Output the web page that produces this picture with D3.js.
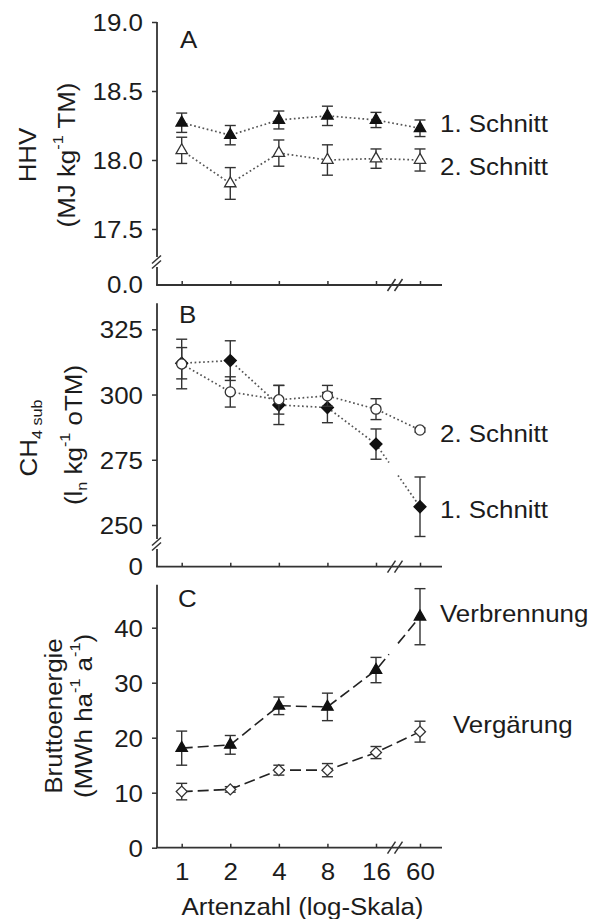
<!DOCTYPE html>
<html>
<head>
<meta charset="utf-8">
<script src="https://cdn.jsdelivr.net/npm/d3@7"></script>
<style>
  body { margin: 0; background: #fff; }
  svg { display: block; font-family: "Liberation Sans", Arial, sans-serif; }
  text { white-space: pre; }
</style>
</head>
<body>
<svg id="chart" width="599" height="919"></svg>
<script>
// ---- data -------------------------------------------------------------
const speciesCounts = [1, 2, 4, 8, 16, 60];
const xTickLabels = ["1", "2", "4", "8", "16", "60"];

// A: higher heating value, MJ kg-1 TM
const hhvCut1 = [18.27, 18.18, 18.29, 18.32, 18.29, 18.23];
const hhvCut1Err = [0.07, 0.07, 0.065, 0.07, 0.055, 0.06];
const hhvCut2 = [18.07, 17.83, 18.05, 18.00, 18.01, 18.00];
const hhvCut2Err = [0.095, 0.115, 0.095, 0.11, 0.07, 0.08];
const hhvTicks = [17.5, 18.0, 18.5, 19.0];

// B: specific methane yield, ln kg-1 oTM
const ch4Cut1 = [312, 313, 296, 295, 281, 257];
const ch4Cut1Err = [6, 7.6, 7.5, 5.8, 5.8, 11.4];
const ch4Cut2 = [311.7, 301, 298, 299.5, 294.4, 286.4];
const ch4Cut2Err = [9.5, 5.8, 5.5, 4, 4, 0.8];
const ch4Ticks = [250, 275, 300, 325];

// C: gross energy, MWh ha-1 a-1
const energyCombustion = [18.1, 18.7, 25.8, 25.6, 32.3, 42.0];
const energyCombustionErr = [3.1, 1.7, 1.6, 2.5, 2.3, 5.1];
const energyDigestion = [10.2, 10.6, 14.1, 14.1, 17.3, 21.1];
const energyDigestionErr = [1.5, 0.5, 0.9, 1.2, 1.1, 1.9];
const energyTicks = [0, 10, 20, 30, 40];

// ---- layout -----------------------------------------------------------
const INK = "#1c1c1c";
const LINE = "#333";
const FS = 24, SMALL = 15, STRETCH = 1.08;
const AXIS_X = 157, X_END = 442, X_BREAK = 395;

const svg = d3.select("#chart");

// log2 spacing for 1..16, then a compressed step past the axis break to 60
const x = d3.scaleLog().base(2).domain([1, 16, 60]).range([181.7, 376, 420]);

function place(px, py, rot) {
  return `translate(${px},${py})` + (rot ? ` rotate(${rot})` : "") + ` scale(${STRETCH},1)`;
}
function rich(parent, px, py, parts, opts = {}) {
  const t = parent.append("text")
    .attr("transform", place(px, py, opts.rot || 0))
    .attr("text-anchor", opts.anchor || "start")
    .attr("font-size", FS)
    .attr("fill", INK);
  let prev = 0;
  parts.forEach(p => {
    const shift = p.shift || 0;
    t.append("tspan").attr("dy", shift - prev).attr("font-size", p.size || FS).text(p.t);
    prev = shift;
  });
  return t;
}

const panels = [
  {
    letter: "A", letterPos: [180, 48],
    y: d3.scaleLinear().domain([17.5, 19]).range([229, 22]),
    top: 19, baseline: 285, yBreak: 262, zeroText: "0.0",
    ticks: hhvTicks, fmt: d3.format(".1f"),
    labels: [
      { pos: [36, 155], parts: [{ t: "HHV" }] },
      { pos: [75, 155], parts: [{ t: "(MJ kg" }, { t: "-1", shift: -12, size: SMALL }, { t: " TM)" }] }
    ],
    series: [
      { values: hhvCut1, errors: hhvCut1Err, shape: "triangle", filled: true, dash: "dot",
        name: "1. Schnitt", namePos: [440, 132] },
      { values: hhvCut2, errors: hhvCut2Err, shape: "triangle", filled: false, dash: "dot",
        name: "2. Schnitt", namePos: [440, 175] }
    ]
  },
  {
    letter: "B", letterPos: [179, 323],
    y: d3.scaleLinear().domain([250, 325]).range([525, 329.3]),
    top: 335, baseline: 566.7, yBreak: 544, zeroText: "0",
    ticks: ch4Ticks, fmt: d3.format("d"),
    labels: [
      { pos: [37, 438], parts: [{ t: "CH" }, { t: "4 sub", shift: 5, size: SMALL }] },
      { pos: [82, 435], parts: [{ t: "(l" }, { t: "n", shift: 5, size: SMALL }, { t: " kg" },
                                { t: "-1", shift: -12, size: SMALL }, { t: " oTM)" }] }
    ],
    series: [
      { values: ch4Cut1, errors: ch4Cut1Err, shape: "diamond", filled: true, dash: "dot", gap: true,
        name: "1. Schnitt", namePos: [440, 518] },
      { values: ch4Cut2, errors: ch4Cut2Err, shape: "circle", filled: false, dash: "dot",
        name: "2. Schnitt", namePos: [440, 442] }
    ]
  },
  {
    letter: "C", letterPos: [178, 607],
    y: d3.scaleLinear().domain([0, 40]).range([847.7, 627.7]),
    top: 47.8, baseline: 847.7, yBreak: null,
    ticks: energyTicks, fmt: d3.format("d"), xLabels: true,
    labels: [
      { pos: [62, 716], parts: [{ t: "Bruttoenergie" }] },
      { pos: [92, 716], parts: [{ t: "(MWh ha" }, { t: "-1", shift: -12, size: SMALL }, { t: " a" },
                                { t: "-1", shift: -12, size: SMALL }, { t: ")" }] }
    ],
    series: [
      { values: energyCombustion, errors: energyCombustionErr, shape: "triangle", filled: true, dash: "dash", gap: true,
        name: "Verbrennung", namePos: [440, 622] },
      { values: energyDigestion, errors: energyDigestionErr, shape: "odiamond", filled: false, dash: "dash",
        name: "Vergärung", namePos: [453, 733] }
    ]
  }
];

const symbolFor = {
  triangle: d3.symbol(d3.symbolTriangle, 56),
  diamond: d3.symbol(d3.symbolSquare, 72),
  odiamond: d3.symbol(d3.symbolSquare, 60),
  circle: d3.symbol(d3.symbolCircle, 80)
};

panels.forEach(p => {
  const g = svg.append("g");
  const y = p.y;

  // y axis line (with break marks for the truncated panels)
  const yTop = y(p.top);
  if (p.yBreak) {
    g.append("line").attr("x1", AXIS_X).attr("x2", AXIS_X).attr("y1", yTop).attr("y2", p.yBreak - 5)
      .attr("stroke", LINE).attr("stroke-width", 1.8);
    g.append("line").attr("x1", AXIS_X).attr("x2", AXIS_X).attr("y1", p.yBreak + 5).attr("y2", p.baseline)
      .attr("stroke", LINE).attr("stroke-width", 1.8);
    [-2.5, 2.5].forEach(o => {
      g.append("line")
        .attr("x1", AXIS_X - 5).attr("y1", p.yBreak + o + 4)
        .attr("x2", AXIS_X + 4).attr("y2", p.yBreak + o - 4)
        .attr("stroke", LINE).attr("stroke-width", 1.5);
    });
    g.append("text").attr("transform", place(AXIS_X - 14, p.baseline, 0))
      .attr("dy", "0.34em").attr("text-anchor", "end").attr("font-size", FS).attr("fill", INK)
      .text(p.zeroText);
  } else {
    g.append("line").attr("x1", AXIS_X).attr("x2", AXIS_X).attr("y1", yTop).attr("y2", p.baseline)
      .attr("stroke", LINE).attr("stroke-width", 1.8);
  }

  const yAxis = g.append("g").attr("transform", `translate(${AXIS_X},0)`)
    .call(d3.axisLeft(y).tickValues(p.ticks).tickFormat(p.fmt).tickSizeInner(5).tickSizeOuter(0).tickPadding(8));
  yAxis.select(".domain").remove();
  yAxis.selectAll(".tick line").attr("stroke", LINE).attr("stroke-width", 1.5);
  yAxis.selectAll(".tick text").attr("font-size", FS).attr("fill", INK).attr("font-family", null)
    .attr("dy", "0.36em").attr("transform", `scale(${STRETCH},1)`);
  yAxis.attr("font-family", null).attr("font-size", null);

  // x axis line, inward ticks and break marks
  g.append("line").attr("x1", AXIS_X - 0.9).attr("x2", X_END).attr("y1", p.baseline).attr("y2", p.baseline)
    .attr("stroke", LINE).attr("stroke-width", 1.8);
  const xAxis = g.append("g").attr("transform", `translate(0,${p.baseline})`)
    .call(d3.axisBottom(x).tickValues(speciesCounts)
      .tickFormat((d, i) => p.xLabels ? xTickLabels[i] : "")
      .tickSizeInner(-4).tickSizeOuter(0).tickPadding(15));
  xAxis.select(".domain").remove();
  xAxis.attr("font-family", null).attr("font-size", null);
  xAxis.selectAll(".tick line").attr("stroke", LINE).attr("stroke-width", 1.5);
  xAxis.selectAll(".tick text").attr("font-size", FS).attr("fill", INK)
    .attr("transform", `scale(${STRETCH},1)`);
  [-3.5, 3.5].forEach(o => {
    g.append("line")
      .attr("x1", X_BREAK + o - 4).attr("y1", p.baseline + 6)
      .attr("x2", X_BREAK + o + 4).attr("y2", p.baseline - 6)
      .attr("stroke", LINE).attr("stroke-width", 1.5);
  });

  // panel letter and axis title
  rich(g, p.letterPos[0], p.letterPos[1], [{ t: p.letter }]);
  p.labels.forEach(l => rich(g, l.pos[0], l.pos[1], l.parts, { anchor: "middle", rot: -90 }));

  // connecting lines
  p.series.forEach(s => {
    const pts = speciesCounts.map((n, i) => [x(n), y(s.values[i])]);
    const style = s.dash === "dot"
      ? { dash: "1.7,2.6", color: "#555", width: 1.7 }
      : { dash: "11,5", color: "#222", width: 1.6 };
    const segments = [];
    if (s.gap) {
      const a = pts[pts.length - 2], b = pts[pts.length - 1];
      const at = xx => [xx, a[1] + (b[1] - a[1]) * (xx - a[0]) / (b[0] - a[0])];
      segments.push(pts.slice(0, -1).concat([at(X_BREAK - 6)]));
      segments.push([at(X_BREAK + 3), b]);
    } else {
      segments.push(pts);
    }
    segments.forEach(seg => {
      g.append("path").attr("d", d3.line()(seg))
        .attr("fill", "none").attr("stroke", style.color)
        .attr("stroke-width", style.width).attr("stroke-dasharray", style.dash);
    });
  });

  // error bars and markers
  p.series.forEach(s => {
    speciesCounts.forEach((n, i) => {
      const cx = x(n), v = s.values[i], e = s.errors[i];
      const y1 = y(v + e), y2 = y(v - e);
      g.append("line").attr("x1", cx).attr("x2", cx).attr("y1", y1).attr("y2", y2)
        .attr("stroke", LINE).attr("stroke-width", 1.4);
      [y1, y2].forEach(yy => g.append("line")
        .attr("x1", cx - 5.5).attr("x2", cx + 5.5).attr("y1", yy).attr("y2", yy)
        .attr("stroke", LINE).attr("stroke-width", 1.4));
      const rot = (s.shape === "diamond" || s.shape === "odiamond") ? " rotate(45)" : "";
      g.append("path").attr("d", symbolFor[s.shape]())
        .attr("transform", `translate(${cx},${y(v)})${rot}`)
        .attr("fill", s.filled ? "#111" : "#fff")
        .attr("stroke", s.filled ? "#111" : "#333")
        .attr("stroke-width", 1.3);
    });
    rich(g, s.namePos[0], s.namePos[1], [{ t: s.name }]);
  });
});

// shared x-axis title
rich(svg, 302.5, 915, [{ t: "Artenzahl (log-Skala)" }], { anchor: "middle" });
</script>
</body>
</html>
